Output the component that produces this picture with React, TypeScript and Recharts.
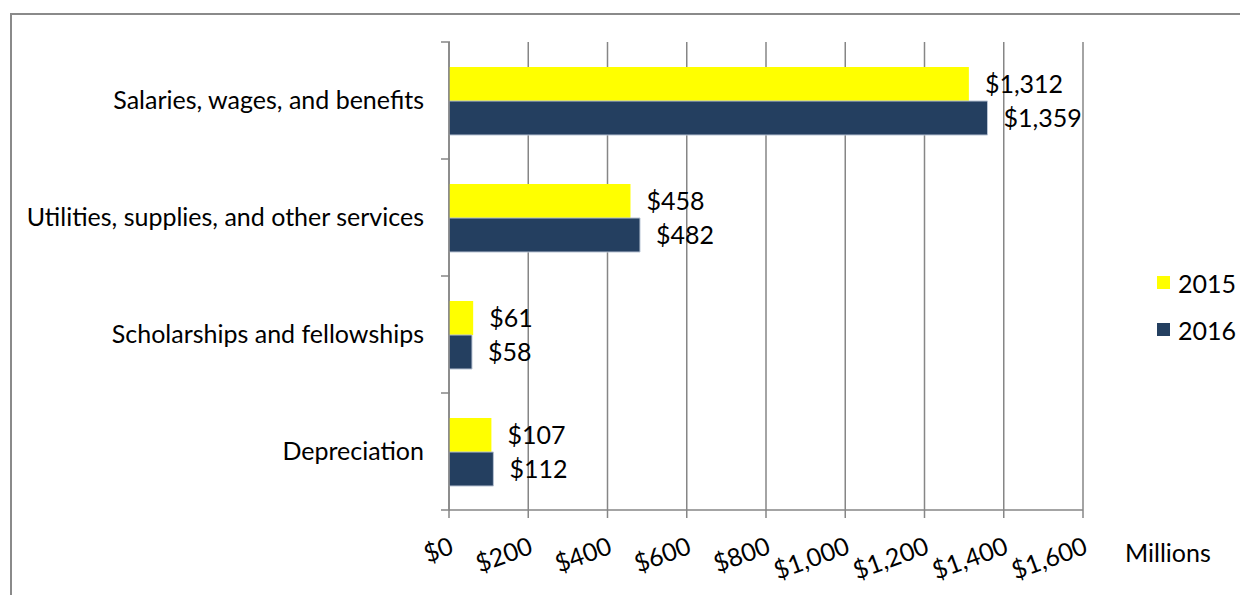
import React from 'react';
import { BarChart, Bar, XAxis, YAxis, CartesianGrid, LabelList, Label } from 'recharts';

const categories = [
  'Salaries, wages, and benefits',
  'Utilities, supplies, and other services',
  'Scholarships and fellowships',
  'Depreciation',
];
const values2015 = [1312, 458, 61, 107];
const values2016 = [1359, 482, 58, 112];
const xTicks = [0, 200, 400, 600, 800, 1000, 1200, 1400, 1600];
const seriesNames = ['2015', '2016'];
const colors = ['#FFFF00', '#243F60'];

const data = categories.map((c, i) => ({ name: c, v2015: values2015[i], v2016: values2016[i] }));

const FONT = 'Lato, "Open Sans", sans-serif';
const FS = 25;
const money = (v: number) => '$' + v.toLocaleString('en-US');

const PLOT_TOP = 34;
const PLOT_H = 468;
const BAND = PLOT_H / categories.length;

const YTick = (props: any) => {
  const { x, y, payload, index } = props;
  const axisX = x + 9;
  return (
    <g>
      <line x1={axisX - 9} x2={axisX} y1={y - BAND / 2} y2={y - BAND / 2} stroke="#868686" strokeWidth={1.5} />
      {index === categories.length - 1 && (
        <line x1={axisX - 9} x2={axisX} y1={y + BAND / 2} y2={y + BAND / 2} stroke="#868686" strokeWidth={1.5} />
      )}
      <text x={axisX - 26} y={y - 2} textAnchor="end" dominantBaseline="central" fontSize={FS} fontFamily={FONT} fill="#000">
        {payload.value}
      </text>
    </g>
  );
};

const XTick = (props: any) => {
  const { x, y, payload } = props;
  const ax = x + 6;
  const ay = y + 33;
  return (
    <text x={ax} y={ay} textAnchor="end" transform={`rotate(-20 ${ax} ${ay})`} fontSize={FS} fontFamily={FONT} fill="#000">
      {money(payload.value)}
    </text>
  );
};

const LegendBox = () => (
  <div style={{ position: 'absolute', left: 1149, top: 251, fontFamily: FONT, fontSize: FS, color: '#000' }}>
    {seriesNames.map((n, i) => (
      <div key={n} style={{ display: 'flex', alignItems: 'center', height: 47 }}>
        <div style={{ width: 13, height: 13, background: colors[i], marginRight: 8 }} />
        <span>{n}</span>
      </div>
    ))}
  </div>
);

export default function App() {
  return (
    <div style={{ position: 'relative', width: 1240, height: 587 }}>
      <div style={{ position: 'absolute', left: 2, top: 5, width: 1240, height: 590, borderLeft: '2px solid #8a8a8a', borderTop: '2px solid #8a8a8a' }} />
      <BarChart
        width={1240}
        height={587}
        data={data}
        layout="vertical"
        margin={{ top: PLOT_TOP, right: 165, bottom: 0, left: 0 }}
        barGap={0}
        barSize={34}
        style={{ position: 'absolute', left: 0, top: 0 }}
      >
        <CartesianGrid horizontal={false} stroke="#868686" strokeWidth={1.5} />
        <XAxis
          type="number"
          domain={[0, 1600]}
          ticks={xTicks}
          interval={0}
          height={85}
          tick={<XTick />}
          tickSize={8}
          tickLine={{ stroke: '#868686', strokeWidth: 1.5 }}
          axisLine={{ stroke: '#868686', strokeWidth: 1.5 }}
        >
          <Label
            content={() => (
              <text x={1117} y={554} fontSize={FS} fontFamily={FONT} fill="#000">Millions</text>
            )}
          />
        </XAxis>
        <YAxis
          type="category"
          dataKey="name"
          width={441}
          tick={<YTick />}
          tickLine={false}
          interval={0}
          axisLine={{ stroke: '#868686', strokeWidth: 1.5 }}
        />
        <Bar dataKey="v2015" name="2015" fill={colors[0]} isAnimationActive={false}>
          <LabelList dataKey="v2015" position="right" offset={16} formatter={(v: any) => money(v)} fontSize={FS} fontFamily={FONT} fill="#000" />
        </Bar>
        <Bar dataKey="v2016" name="2016" fill={colors[1]} stroke="#b8c3d3" strokeWidth={1} isAnimationActive={false}>
          <LabelList dataKey="v2016" position="right" offset={16} formatter={(v: any) => money(v)} fontSize={FS} fontFamily={FONT} fill="#000" />
        </Bar>
      </BarChart>
      <LegendBox />
    </div>
  );
}
